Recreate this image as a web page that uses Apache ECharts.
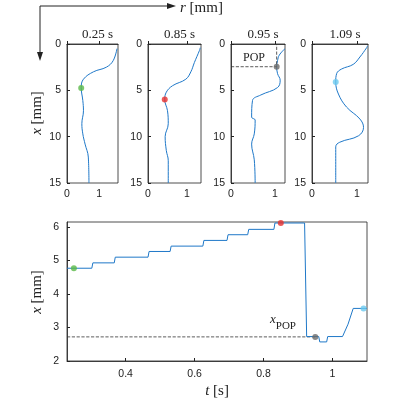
<!DOCTYPE html>
<html>
<head>
<meta charset="utf-8">
<script src="https://cdn.jsdelivr.net/npm/echarts@6/dist/echarts.min.js"></script>
<style>body{margin:0}#c{width:400px;height:400px}</style>
</head>
<body>
<div id="c"></div>
<script>
// profiles: [r, x] pairs
var titles = ['0.25 s', '0.85 s', '0.95 s', '1.09 s'];
var rMax = [1.58, 1.36, 1.23, 1.25];
var prof1 = [[1.55,0.5],[1.43,1.8],[1.22,2.5],[0.82,3.0],[0.51,3.8],[0.44,4.7],[0.49,6.1],[0.51,7.2],[0.46,8.6],[0.49,9.7],[0.56,10.8],[0.66,12.2],[0.68,15]];
var prof2 = [[1.34,0.4],[1.32,0.7],[1.19,2.0],[1.1,3.0],[0.97,3.8],[0.63,4.5],[0.47,5.2],[0.43,6.0],[0.5,7.2],[0.52,8.6],[0.44,10.0],[0.47,11.5],[0.52,12.6],[0.52,15]];
var prof3 = [[1.23,0.5],[1.1,1.2],[1.06,1.8],[1.04,2.4],[1.06,3.2],[1.12,3.9],[1.06,4.7],[0.68,5.5],[0.49,6.1],[0.47,7.9],[0.55,8.2],[0.53,9.7],[0.47,10.8],[0.53,12.5],[0.55,15]];
var prof4 = [[1.24,0.2],[1.22,0.4],[1.07,1.4],[0.92,2.2],[0.66,2.7],[0.55,3.2],[0.53,4.1],[0.59,5.4],[0.77,6.8],[1.07,8.1],[1.15,9.0],[1.04,9.9],[0.62,10.6],[0.53,11.1],[0.53,15]];
var profiles = [prof1, prof2, prof3, prof4];
var profMarks = [[0.44,4.75],[0.43,6.0],[1.04,2.45],[0.53,4.1]];
var markColors = ['#5ab947', '#e8302e', '#6b6b6b', '#6cc9ef'];
// time history
var xHist = [[0.23,4.77],[0.302,4.77],[0.305,4.93],[0.367,4.93],[0.37,5.1],[0.465,5.1],[0.468,5.27],[0.529,5.27],[0.532,5.43],[0.624,5.43],[0.627,5.6],[0.694,5.6],[0.697,5.77],[0.754,5.77],[0.757,5.93],[0.83,5.93],[0.833,6.12],[0.919,6.12],[0.925,2.73],[0.96,2.73],[0.963,2.57],[0.983,2.57],[0.986,2.73],[1.029,2.73],[1.045,3.1],[1.06,3.57],[1.1,3.57]];
var histMarks = [[0.25,4.77],[0.85,6.12],[0.95,2.72],[1.09,3.57]];
var tTicks = [0.4, 0.6, 0.8, 1];
var xPop = 2.72;

var lefts = [67, 148, 231, 312];
var widths = [51, 53, 54, 56];
var tick = {fontFamily: 'Liberation Sans', fontSize: 10.5, color: '#222'};
var axLine = {show: true, lineStyle: {color: '#222', width: 0.8}};
var box = {show: true, borderColor: '#222', borderWidth: 0.8};
var grids = [], xAxes = [], yAxes = [], series = [], titleArr = [];
for (var i = 0; i < 4; i++) {
  grids.push(Object.assign({left: lefts[i], width: widths[i], top: 44, height: 139}, box));
  xAxes.push({gridIndex: i, type: 'value', min: 0, max: rMax[i], interval: 1, axisLine: axLine,
    axisTick: {inside: true, length: 3}, axisLabel: Object.assign({margin: 6, showMaxLabel: false}, tick), splitLine: {show: false}});
  yAxes.push({gridIndex: i, type: 'value', min: 0, max: 15, interval: 5, inverse: true, axisLine: axLine,
    axisTick: {inside: true, length: 3}, axisLabel: Object.assign({margin: 6}, tick), splitLine: {show: false}});
  titleArr.push({text: titles[i], left: lefts[i] + widths[i] / 2, top: 23, textAlign: 'center',
    textStyle: {fontFamily: 'Liberation Serif', fontSize: 13, fontWeight: 'normal', color: '#222'}});
  series.push({type: 'line', xAxisIndex: i, yAxisIndex: i, data: profiles[i], smooth: 0.4, showSymbol: false,
    lineStyle: {color: '#1f78c8', width: 1}});
  series.push({type: 'scatter', xAxisIndex: i, yAxisIndex: i, data: [profMarks[i]], symbolSize: 6, z: 5,
    itemStyle: {color: markColors[i]}});
}
// POP dashed lines in panel 3
series.push({type: 'line', xAxisIndex: 2, yAxisIndex: 2, data: [[0, 2.45], [1.04, 2.45], [1.04, 0]], showSymbol: false,
  lineStyle: {color: '#333', width: 0.8, type: 'dashed'}});
// bottom
grids.push(Object.assign({left: 67, right: 33, top: 222, bottom: 39}, box));
xAxes.push({gridIndex: 4, type: 'value', min: 0.23, max: 1.1, axisLine: axLine, splitLine: {show: false},
  axisLabel: Object.assign({margin: 8, customValues: tTicks}, tick),
  axisTick: {inside: true, length: 3, customValues: tTicks}});
yAxes.push({gridIndex: 4, type: 'value', min: 2, max: 6.15, interval: 1, axisLine: axLine,
  axisTick: {inside: true, length: 3}, axisLabel: Object.assign({margin: 8, showMaxLabel: false}, tick), splitLine: {show: false}});
series.push({type: 'line', xAxisIndex: 4, yAxisIndex: 4, data: [[0.23, xPop], [0.95, xPop]], showSymbol: false,
  lineStyle: {color: '#333', width: 0.8, type: 'dashed'}});
series.push({type: 'line', xAxisIndex: 4, yAxisIndex: 4, data: xHist, showSymbol: false,
  lineStyle: {color: '#1f78c8', width: 1}});
series.push({type: 'scatter', xAxisIndex: 4, yAxisIndex: 4, symbolSize: 6, z: 5,
  data: histMarks.map(function (p, k) { return {value: p, itemStyle: {color: markColors[k]}}; })});

var serif = 'Liberation Serif';
var chart = echarts.init(document.getElementById('c'));
chart.setOption({
  animation: false,
  title: titleArr,
  grid: grids, xAxis: xAxes, yAxis: yAxes, series: series,
  graphic: [
    {type: 'line', shape: {x1: 40, y1: 6, x2: 170, y2: 6}, style: {stroke: '#222', lineWidth: 1}},
    {type: 'polygon', shape: {points: [[176, 6], [167, 3], [167, 9]]}, style: {fill: '#222'}},
    {type: 'line', shape: {x1: 40, y1: 6, x2: 40, y2: 54}, style: {stroke: '#222', lineWidth: 1}},
    {type: 'polygon', shape: {points: [[40, 61], [37, 52], [43, 52]]}, style: {fill: '#222'}},
    {type: 'text', x: 180, y: 8, style: {text: '{i|r} [mm]', font: '15px ' + serif, fill: '#222', verticalAlign: 'middle',
      rich: {i: {fontStyle: 'italic', fontFamily: serif, fontSize: 15}}}},
    {type: 'text', x: 37, y: 113, rotation: Math.PI / 2, style: {text: '{i|x} [mm]', font: '15px ' + serif,
      fill: '#222', align: 'center', verticalAlign: 'middle', rich: {i: {fontStyle: 'italic', fontFamily: serif, fontSize: 15}}}},
    {type: 'text', x: 37, y: 292, rotation: Math.PI / 2, style: {text: '{i|x} [mm]', font: '15px ' + serif,
      fill: '#222', align: 'center', verticalAlign: 'middle', rich: {i: {fontStyle: 'italic', fontFamily: serif, fontSize: 15}}}},
    {type: 'text', x: 217, y: 391, style: {text: '{i|t} [s]', font: '15px ' + serif, fill: '#222',
      align: 'center', verticalAlign: 'middle', rich: {i: {fontStyle: 'italic', fontFamily: serif, fontSize: 15}}}},
    {type: 'text', x: 243, y: 58, style: {text: 'POP', font: '12px ' + serif, fill: '#222', verticalAlign: 'middle'}},
    {type: 'text', x: 270, y: 323, style: {text: '{i|x}{s|POP}', font: '13px ' + serif, fill: '#222',
      verticalAlign: 'middle', rich: {i: {fontStyle: 'italic', fontFamily: serif, fontSize: 13, verticalAlign: 'top', padding: [0, 0, 6, 0]},
        s: {fontFamily: serif, fontSize: 11, padding: [6, 0, 0, 0]}}}}
  ]
});
</script>
</body>
</html>
